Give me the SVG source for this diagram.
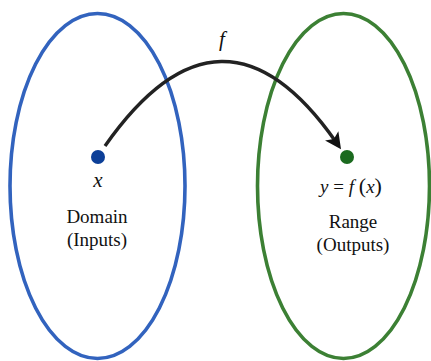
<svg xmlns="http://www.w3.org/2000/svg" width="431" height="361" viewBox="0 0 431 361">
<defs>
<style>
text{font-family:'Liberation Serif','Times New Roman',serif;fill:#111;text-anchor:middle}
.i{font-style:italic}
.set{fill:none;stroke-width:3.6}
</style>
<marker id="ah" markerUnits="userSpaceOnUse" markerWidth="20" markerHeight="20" viewBox="-8 -8 16 16" refX="0" refY="0" orient="auto">
<path d="M7,0 L-6,-6.5 L-3,0 L-6,6.5 Z" fill="#111"/>
</marker>
</defs>
<rect width="431" height="361" fill="#fff"/>
<g id="domain">
<ellipse class="set" cx="97.5" cy="186" rx="87.5" ry="172.5" stroke="#3263be"/>
<circle cx="98" cy="157" r="7" fill="#0c3f98"/>
<text class="i" x="98" y="187" font-size="21">x</text>
<text x="97" y="223" font-size="19">Domain</text>
<text x="97" y="246" font-size="19">(Inputs)</text>
</g>
<g id="range">
<ellipse class="set" cx="343.5" cy="186" rx="86" ry="172.5" stroke="#3c8034"/>
<circle cx="347" cy="157" r="7" fill="#1b6a1f"/>
<text x="351" y="193" font-size="19"><tspan class="i">y</tspan> = <tspan class="i">f</tspan> <tspan font-size="22">(</tspan><tspan class="i">x</tspan><tspan font-size="22">)</tspan></text>
<text x="353" y="228" font-size="19">Range</text>
<text x="353" y="251" font-size="19">(Outputs)</text>
</g>
<g id="connectors">
<path d="M105,146 Q222,-21 336,142" fill="none" stroke="#222" stroke-width="3.4" marker-end="url(#ah)"/>
<text class="i" x="222" y="46" font-size="21">f</text>
</g>
</svg>
